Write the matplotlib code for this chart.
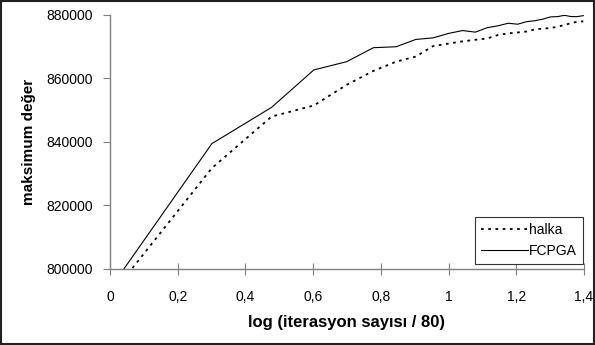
import numpy as np
import matplotlib
matplotlib.use("Agg")
import matplotlib.pyplot as plt
from matplotlib.patches import Rectangle
from matplotlib.ticker import FuncFormatter

plt.rcParams['font.family'] = ['Liberation Sans', 'DejaVu Sans']

iterations = list(range(1, 26))
halka = [791400, 831800, 848000, 851500, 858000, 862400, 865300, 866900, 870200,
         871000, 871700, 872200, 872600, 873700, 874200, 874500, 874800, 875500,
         875700, 875900, 876300, 876900, 877400, 877900, 878000]
fcpga = [793800, 839500, 850900, 862700, 865300, 869700, 870000, 872300, 872800,
         874200, 875100, 874600, 876000, 876600, 877400, 877100, 877900, 878200,
         878700, 879400, 879500, 879900, 879500, 879500, 879800]
xticks = [0, 0.2, 0.4, 0.6, 0.8, 1.0, 1.2, 1.4]
yticks = [800000, 820000, 840000, 860000, 880000]

x = np.log10(iterations)

fig = plt.figure(figsize=(5.95, 3.45), dpi=100)
fig.patches.append(Rectangle((0.002, 0.003), 0.996, 0.994, transform=fig.transFigure,
                             fill=False, edgecolor='#202020', linewidth=1.5))
ax = fig.add_axes([110/595, (345-269)/345, 474/595, 254/345])

ax.plot(x, halka, color='black', linewidth=1.3, linestyle=(0, (1.5, 2.5)), label='halka')
ax.plot(x, fcpga, color='black', linewidth=0.8, label='FCPGA')

ax.set_xlim(0, 1.4)
ax.set_ylim(800000, 880000)
ax.set_xticks(xticks)
ax.set_yticks(yticks)
ax.xaxis.set_major_formatter(FuncFormatter(lambda v, p: ('%g' % round(v, 2)).replace('.', ',')))
ax.yaxis.set_major_formatter(FuncFormatter(lambda v, p: '%d' % v))

for s in ['top', 'right']:
    ax.spines[s].set_visible(False)
for s in ['left', 'bottom']:
    ax.spines[s].set_color('#808080')
    ax.spines[s].set_linewidth(1.0)
ax.tick_params(axis='y', direction='out', length=5, color='#808080', labelsize=10, pad=7)
ax.tick_params(axis='x', direction='inout', length=8, color='#808080', labelsize=10, pad=11)

ax.set_xlabel('log (iterasyon sayısı / 80)', fontsize=12, fontweight='bold', labelpad=8)
ax.set_ylabel('maksimum değer', fontsize=11, fontweight='bold', labelpad=8)

leg = ax.legend(loc='lower right', bbox_to_anchor=(1.0, 0.015), fontsize=10, frameon=True,
                fancybox=False, edgecolor='black', handlelength=3.4, handletextpad=0.1,
                borderpad=0.4, labelspacing=0.55, borderaxespad=0.1)
leg.get_frame().set_linewidth(0.8)

fig.savefig('out.png', dpi=100)
